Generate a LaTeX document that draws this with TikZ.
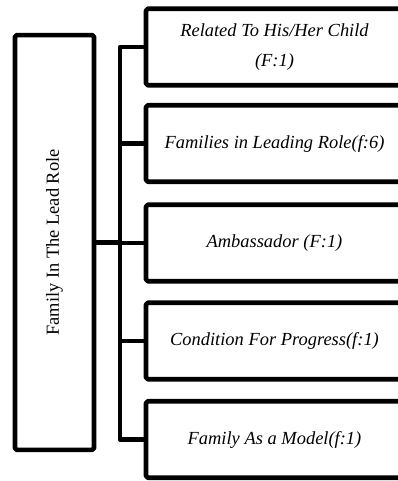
\documentclass[tikz,border=0pt]{standalone}
\usepackage{fontspec}
\setmainfont{Liberation Serif}
\begin{document}
\begin{tikzpicture}[x=0.02cm,y=-0.02cm,
		font=\fontsize{10.5}{12.6}\selectfont,
		bar/.style={line width=2.6pt,line join=round},
		leadbox/.style={draw,bar,rounded corners=1pt,minimum width=1.58cm,minimum height=8.3cm,inner sep=0pt},
		rolebox/.style={draw,bar,rounded corners=1pt,minimum width=5.14cm,minimum height=1.53cm,inner sep=0pt,align=center,font=\fontsize{10.5}{12.6}\selectfont\itshape}]
		\useasboundingbox (0,0) rectangle (397,481);
		\node[leadbox] (lead) at (54.5,242.5) {\rotatebox{90}{Family In The Lead Role}};
		\node[rolebox] (related) at (274.5,47) {Related To His/Her Child\\[4pt](F:1)};
		\node[rolebox] (families) at (274.5,143.5) {Families in Leading Role(f:6)};
		\node[rolebox] (ambassador) at (274.5,243) {Ambassador (F:1)};
		\node[rolebox] (progress) at (274.5,341) {Condition For Progress(f:1)};
		\node[rolebox] (model) at (274.5,439.5) {Family As a Model(f:1)};
		\coordinate (trunk) at (120,242.5);
		\draw[bar] (lead.east) -- (trunk);
		\draw[bar] (related.west) -- (trunk |- related.west) -- (trunk |- model.west) -- (model.west);
		\foreach \b in {families,ambassador,progress}
			\draw[bar] (trunk |- \b.west) -- (\b.west);
	\end{tikzpicture}
\end{document}
